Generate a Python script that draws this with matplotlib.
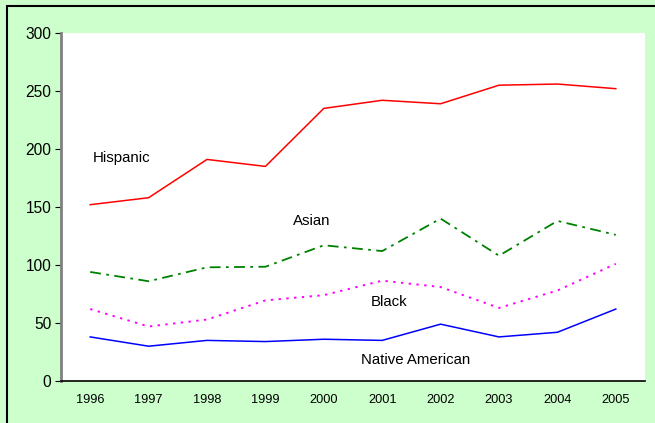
import matplotlib
matplotlib.use('Agg')
import matplotlib.pyplot as plt
from matplotlib.patches import Rectangle

years = ['1996', '1997', '1998', '1999', '2000', '2001', '2002', '2003', '2004', '2005']
hispanic = [152, 158, 191, 185, 235, 242, 239, 255, 256, 252]
asian = [94, 86, 98, 98.5, 117, 112, 140, 108, 138, 126]
black = [62, 47, 53, 69.5, 74, 86.5, 81, 63, 78, 101]
native_american = [38, 30, 35, 34, 36, 35, 49, 38, 42, 62]

plt.rcParams['font.family'] = ['Liberation Sans', 'DejaVu Sans']

fig = plt.figure(figsize=(6.55, 4.23), dpi=100)
fig.patch.set_facecolor('#CCFFCC')
# black frame on the top and left edge (the rest is cut off)
fig.patches.append(Rectangle((6.5 / 655, -0.1), 1.2, (423 - 6) / 423 + 0.1,
                             transform=fig.transFigure, fill=False,
                             edgecolor='black', linewidth=1.5))

ax = fig.add_axes([61 / 655, 42 / 423, 584 / 655, 348 / 423])
ax.set_facecolor('white')

x = range(len(years))
ax.plot(x, hispanic, color='#FF0000', lw=1.1)
ax.plot(x, asian, color='#008000', lw=1.3, dashes=(6, 3, 1.5, 3))
ax.plot(x, black, color='#FF00FF', lw=1.4, dashes=(1.2, 2.8))
ax.plot(x, native_american, color='#0000FF', lw=1.1)

# series labels inside the plot
ax.text(0.05, 192, 'Hispanic', fontsize=10.8, va='center', ha='left')
ax.text(3.47, 138, 'Asian', fontsize=10.8, va='center', ha='left')
ax.text(4.80, 68, 'Black', fontsize=10.8, va='center', ha='left')
ax.text(4.63, 18, 'Native American', fontsize=10.8, va='center', ha='left')

ax.set_xlim(-0.5, 9.5)
ax.set_ylim(0, 300)
ax.set_yticks(range(0, 301, 50))
ax.set_xticks(list(x))
ax.set_xticklabels(years)
ax.tick_params(axis='y', labelsize=11.2, length=4, direction='out', pad=3)
ax.tick_params(axis='x', labelsize=9.2, length=0, pad=9)

for side in ['top', 'right']:
    ax.spines[side].set_visible(False)
ax.spines['left'].set_color('#808080')
ax.spines['left'].set_linewidth(2)
ax.spines['bottom'].set_color('black')
ax.spines['bottom'].set_linewidth(1.2)

fig.savefig('out.png', dpi=100, facecolor=fig.get_facecolor())
